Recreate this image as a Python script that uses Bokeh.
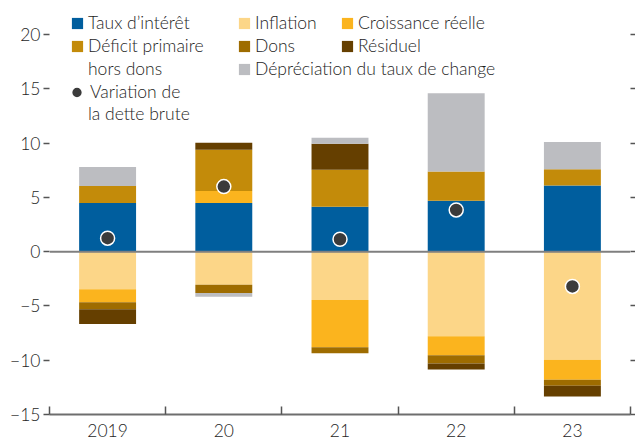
from bokeh.plotting import figure
from bokeh.models import (Legend, LegendItem, LinearAxis, FixedTicker, Range1d, Span,
                          ColumnDataSource)
from bokeh.embed import file_html
from bokeh.resources import INLINE

# ---------------- data ----------------
years = ["2019", "20", "21", "22", "23"]
taux = [4.5, 4.5, 4.15, 4.7, 6.1]
inflation = [-3.45, -3.05, -4.45, -7.8, -9.95]
croissance = [-1.2, 1.1, -4.35, -1.75, -1.85]
deficit = [1.55, 3.8, 3.4, 2.7, 1.5]
dons = [-0.65, -0.75, -0.55, -0.75, -0.55]
residuel = [-1.35, 0.65, 2.4, -0.55, -1.0]
depreciation = [1.75, -0.35, 0.55, 7.2, 2.5]
variation = [1.25, 6.0, 1.15, 3.85, -3.2]
y_ticks = [-15, -10, -5, 0, 5, 10, 15, 20]

names = ["Taux d\u2019intérêt", "Inflation", "Croissance réelle", "Déficit primaire",
         "Dons", "Résiduel", "Dépréciation du taux de change"]
values = [taux, inflation, croissance, deficit, dons, residuel, depreciation]
colors = ["#005E9E", "#FCD688", "#FBB41E", "#C38B0A", "#9E6C00", "#653F00", "#BCBDC1"]
dot_label = ["Variation de", "la dette brute"]
deficit_label2 = "hors dons"

FONT = "Lato Light"
TXT = "#1E1E1E"
FS = "17.5px"

W, H = 635, 439
FRAME_H = 412

xs = [i + 0.5 for i in range(len(years))]

p = figure(width=W, height=H, output_backend="svg", toolbar_location=None,
           x_range=Range1d(0, len(years)), y_range=Range1d(-15, 23.15),
           x_axis_type=None, y_axis_type=None,
           min_border_left=49, min_border_right=0, min_border_top=0, min_border_bottom=0)
p.outline_line_color = None
p.xgrid.visible = False
p.ygrid.visible = False

renderers = {}
pos = [0.0] * len(years)
neg = [0.0] * len(years)
for name, vals, color in zip(names, values, colors):
    bottoms, tops = [], []
    for i, v in enumerate(vals):
        if v >= 0:
            bottoms.append(pos[i]); tops.append(pos[i] + v); pos[i] += v
        else:
            bottoms.append(neg[i]); tops.append(neg[i] + v); neg[i] += v
    src = ColumnDataSource(dict(x=xs, bottom=bottoms, top=tops))
    r = p.vbar(x="x", bottom="bottom", top="top", width=0.49, source=src,
               fill_color=color, line_color=None)
    renderers[name] = r

# invisible renderer used for continuation lines in the legend
blank = p.vbar(x=[], top=[], width=0.5, fill_alpha=0, line_alpha=0)

p.add_layout(Span(location=0, dimension="width", line_color="#7F7F7F", line_width=2))

dots = p.scatter(xs, variation, size=14, fill_color="#3B3B3B", line_color="white",
                 line_width=1.5)

# axes
xaxis = LinearAxis(ticker=FixedTicker(ticks=xs, minor_ticks=list(range(len(years) + 1))),
                   major_label_overrides={x: y for x, y in zip(xs, years)})
xaxis.major_tick_in = 0
xaxis.major_tick_out = 0
xaxis.minor_tick_in = 8
xaxis.minor_tick_out = 0
xaxis.minor_tick_line_color = "#555555"
xaxis.minor_tick_line_width = 1.5
xaxis.axis_line_color = "#6E6E6E"
xaxis.axis_line_width = 2
xaxis.major_label_standoff = 9
xaxis.major_label_text_font = FONT
xaxis.major_label_text_font_size = FS
xaxis.major_label_text_color = TXT
p.add_layout(xaxis, "below")

yaxis = LinearAxis(ticker=FixedTicker(ticks=y_ticks, minor_ticks=[]))
yaxis.axis_line_color = None
yaxis.major_tick_in = 0
yaxis.major_tick_out = 6
yaxis.major_tick_line_color = "#555555"
yaxis.major_tick_line_width = 1.5
yaxis.major_label_standoff = 3
yaxis.major_label_text_font = FONT
yaxis.major_label_text_font_size = FS
yaxis.major_label_text_color = TXT
p.add_layout(yaxis, "left")

raxis = LinearAxis(ticker=FixedTicker(ticks=y_ticks, minor_ticks=[]),
                   major_label_overrides={t: "" for t in y_ticks})
raxis.axis_line_color = None
raxis.major_tick_in = 0
raxis.major_tick_out = 5
raxis.major_tick_line_color = "#555555"
raxis.major_tick_line_width = 1.5
raxis.major_label_standoff = 0
p.add_layout(raxis, "right")

# legends
common = dict(padding=0, margin=0, spacing=1, border_line_color=None,
              background_fill_alpha=0, label_text_font=FONT,
              label_text_font_size=FS, label_text_color=TXT,
              glyph_width=14, glyph_height=14, label_standoff=4, label_height=22)


def add_legend(vx, top, items, height, **kw):
    opts = dict(common)
    opts.update(kw)
    lg = Legend(items=items, location=(vx, FRAME_H - top - height), **opts)
    p.add_layout(lg, "center")


TOP = 9.5
add_legend(21, TOP, [LegendItem(label=names[0], renderers=[renderers[names[0]]]),
                     LegendItem(label=names[3], renderers=[renderers[names[3]]]),
                     LegendItem(label=deficit_label2, renderers=[blank])], 68)
add_legend(188, TOP, [LegendItem(label=names[1], renderers=[renderers[names[1]]]),
                      LegendItem(label=names[4], renderers=[renderers[names[4]]]),
                      LegendItem(label=names[6], renderers=[renderers[names[6]]])], 68)
add_legend(291, TOP, [LegendItem(label=names[2], renderers=[renderers[names[2]]]),
                      LegendItem(label=names[5], renderers=[renderers[names[5]]])], 45)
add_legend(14, TOP + 66, [LegendItem(label=dot_label[0], renderers=[dots])], 28,
           glyph_width=27, glyph_height=28, label_standoff=-2)
add_legend(21, TOP + 91, [LegendItem(label=dot_label[1], renderers=[blank])], 22)

open("out.html", "w").write(file_html(p, INLINE))
